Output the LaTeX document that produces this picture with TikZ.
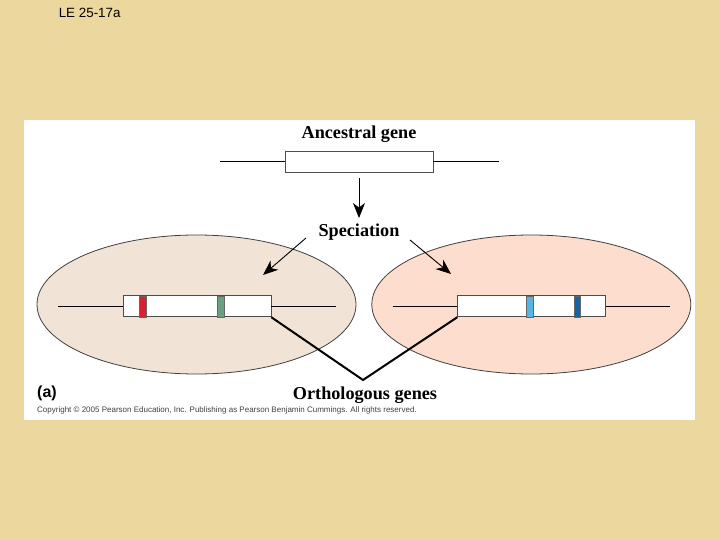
\documentclass[tikz,border=0pt]{standalone}
\usepackage{fontspec}
\setmainfont{Liberation Serif}
\setsansfont{Liberation Sans}
\usepackage{tikz}
\usetikzlibrary{arrows.meta,positioning,shapes.geometric}
\definecolor{parchment}{RGB}{236,216,158}
\definecolor{cellA}{RGB}{241,228,214}
\definecolor{cellB}{RGB}{252,221,206}
\definecolor{bandred}{RGB}{218,32,44}
\definecolor{bandgreen}{RGB}{104,160,128}
\definecolor{bandlight}{RGB}{84,182,226}
\definecolor{banddark}{RGB}{22,100,162}

\begin{document}
\begin{tikzpicture}[
    x=1pt, y=-1pt,
    cell/.style={ellipse, draw=black!75, line width=0.8pt, minimum width=319pt, minimum height=139pt, inner sep=0pt},
    gene/.style={rectangle, draw=black!70, fill=white, line width=0.8pt, minimum width=148pt, minimum height=21pt, inner sep=0pt},
    band/.style={rectangle, draw=black!60, line width=0.4pt, minimum width=7pt, minimum height=21pt, inner sep=0pt},
    dna/.style={draw=black, line width=0.8pt},
    arrow/.style={-{Stealth[length=15pt,width=12pt,inset=4.5pt]}, line width=0.9pt, draw=black},
    ortho/.style={draw=black, line width=2pt},
    label/.style={font=\fontsize{18.2}{19}\selectfont\bfseries, inner sep=0pt},
]

% === BACKGROUND ===
\useasboundingbox (0,0) rectangle (720,540);
\fill[parchment] (0,0) rectangle (720,540);
\fill[white] (24,120) rectangle (695,420);
\node[font=\sffamily\fontsize{13.4}{14}\selectfont, inner sep=0pt] (fig) at (89.7,12.7) {LE 25-17a};

% === ANCESTRAL GENE ===
\node[label] (anclabel) at (359,134) {Ancestral gene};
\node[gene] (anc) at (359,161.5) {};
\coordinate (ancL) at (220,161.5);
\coordinate (ancR) at (499,161.5);
\draw[dna] (ancL) -- (anc.west);
\draw[dna] (anc.east) -- (ancR);

\node[label] (spec) at (359,232.5) {Speciation};

% === DESCENDANT SPECIES ===
\node[cell, fill=cellA] (cellL) at (196.5,304.5) {};
\node[cell, fill=cellB] (cellR) at (531.3,304.5) {};

\node[gene] (geneL) at (196.9,306.3) {};
\node[gene] (geneR) at (531.7,306.3) {};
\coordinate (geneLL) at (58,306.3);
\coordinate (geneLR) at (336,306.3);
\coordinate (geneRL) at (392.7,306.3);
\coordinate (geneRR) at (670,306.3);
\draw[dna] (geneLL) -- (geneL.west);
\draw[dna] (geneL.east) -- (geneLR);
\draw[dna] (geneRL) -- (geneR.west);
\draw[dna] (geneR.east) -- (geneRR);

\node[band, fill=bandred, minimum width=6.7pt] (redL) at (142.7,306.3) {};
\node[band, fill=bandgreen, minimum width=7.3pt] (greenL) at (221,306.3) {};
\node[band, fill=bandlight, minimum width=7.3pt] (lightR) at (529.7,306.3) {};
\node[band, fill=banddark, minimum width=6.7pt] (darkR) at (577.3,306.3) {};

% === ARROWS ===
\coordinate (specL) at (306,238);
\coordinate (tipL) at (263,275);
\coordinate (specR) at (410,240);
\coordinate (tipR) at (451,274);
\draw[arrow] ([yshift=-6pt]anc.south) -- ([yshift=6pt]spec.north);
\draw[arrow] (specL) -- (tipL);
\draw[arrow] (specR) -- (tipR);

% === ORTHOLOGS ===
\coordinate (vtx) at (363,380);
\draw[ortho, line join=miter] (geneL.south east) -- (vtx) -- (geneR.south west);
\node[label] (ortholabel) at (365,395.5) {Orthologous genes};

% === CAPTION ===
\node[font=\sffamily\bfseries\fontsize{16}{16}\selectfont, inner sep=0pt] (panel) at (47,393) {(a)};
\node[font=\sffamily\fontsize{8}{9}\selectfont, text=black!75, anchor=west, inner sep=0pt] (copy) at (37,410) {Copyright \textcopyright{} 2005 Pearson Education, Inc. Publishing as Pearson Benjamin Cummings. All rights reserved.};

\end{tikzpicture}
\end{document}
